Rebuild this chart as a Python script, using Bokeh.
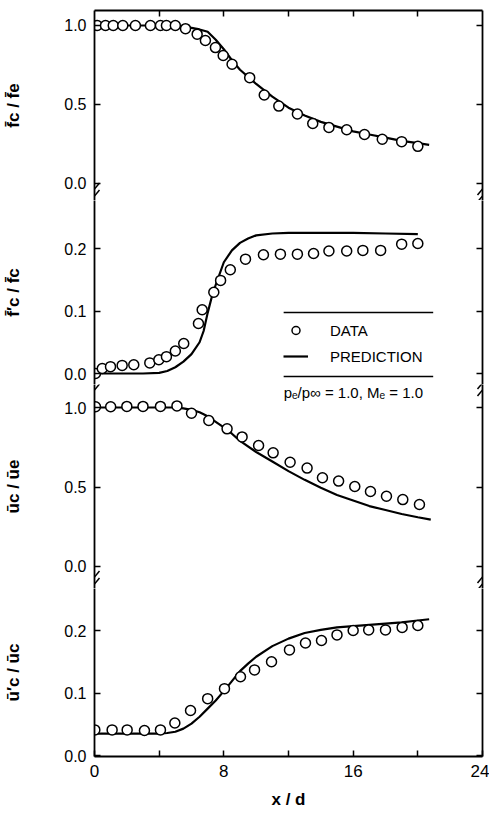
import numpy as np
from bokeh.plotting import figure
from bokeh.layouts import column
from bokeh.models import (Range1d, LinearAxis, FixedTicker, PrintfTickFormatter,
                          CustomJSTickFormatter, Legend, LegendItem, Label, Arrow)
from bokeh.embed import file_html
from bokeh.resources import INLINE

# ---------------- data ----------------
# panel 1: mean concentration  f_c / f_e
f_x = [0.17, 0.68, 1.16, 1.75, 2.53, 3.46, 4.08, 4.45, 5.0, 5.63, 6.35, 6.86, 7.48,
       7.96, 8.51, 9.6, 10.5, 11.4, 12.55, 13.5, 14.5, 15.6, 16.7, 17.8, 19.0, 20.0]
f_y = [1.0, 1.0, 1.0, 1.0, 1.0, 1.0, 1.0, 1.0, 1.0, 0.98, 0.945, 0.905, 0.86,
       0.81, 0.755, 0.67, 0.56, 0.49, 0.44, 0.38, 0.355, 0.34, 0.31, 0.28, 0.265, 0.235]
f_pred_x = [0, 1, 2, 3, 4, 5, 5.5, 6, 6.5, 7, 7.5, 8, 8.5, 9, 10, 11, 12, 13, 14,
            15, 16, 17, 18, 19, 20, 20.7]
f_pred_y = [1.0, 1.0, 1.0, 1.0, 1.0, 0.995, 0.99, 0.985, 0.975, 0.96, 0.91, 0.85,
            0.78, 0.72, 0.63, 0.55, 0.48, 0.43, 0.39, 0.36, 0.33, 0.31, 0.29, 0.27,
            0.255, 0.245]

# panel 2: concentration fluctuation  f'_c / f_c
fp_x = [0.06, 0.48, 0.99, 1.71, 2.43, 3.42, 3.98, 4.45, 5.0, 5.52, 6.43, 6.66, 7.38,
        7.8, 8.4, 9.34, 10.45, 11.5, 12.55, 13.55, 14.5, 15.6, 16.6, 17.7, 19.0, 20.0]
fp_y = [0.0, 0.008, 0.011, 0.013, 0.014, 0.017, 0.022, 0.027, 0.036, 0.048, 0.080,
        0.102, 0.130, 0.149, 0.166, 0.183, 0.190, 0.191, 0.191, 0.192, 0.196, 0.196,
        0.197, 0.197, 0.207, 0.208]
fp_pred_x = [0, 1, 2, 3, 4, 4.5, 5, 5.5, 6, 6.5, 6.75, 7, 7.25, 7.5, 8, 8.5, 9, 9.5,
             10, 11, 12, 14, 16, 18, 20]
fp_pred_y = [0.0, 0.0, 0.0, 0.0, 0.001, 0.004, 0.01, 0.019, 0.031, 0.05, 0.068, 0.097,
             0.122, 0.142, 0.178, 0.197, 0.209, 0.216, 0.221, 0.224, 0.225, 0.225,
             0.225, 0.224, 0.223]

# panel 3: mean velocity  u_c / u_e
u_x = [0.06, 1.0, 2.0, 3.0, 4.08, 5.1, 6.0, 7.07, 8.2, 9.13, 10.15, 11.05, 12.1,
       13.15, 14.1, 15.1, 16.1, 17.07, 18.06, 19.07, 20.1]
u_y = [1.005, 1.005, 1.007, 1.007, 1.007, 1.01, 0.964, 0.918, 0.866, 0.815, 0.761,
       0.715, 0.656, 0.619, 0.558, 0.537, 0.503, 0.472, 0.442, 0.421, 0.39]
u_pred_x = [0, 2, 4, 5, 5.5, 6, 6.5, 7, 7.5, 8, 8.5, 9, 10, 11, 12, 13, 14, 15, 16,
            17, 18, 19, 20, 20.8]
u_pred_y = [1.0, 1.0, 1.0, 1.0, 0.995, 0.985, 0.97, 0.945, 0.91, 0.875, 0.835, 0.79,
            0.72, 0.66, 0.60, 0.545, 0.495, 0.45, 0.415, 0.38, 0.355, 0.33, 0.31, 0.295]

# panel 4: velocity fluctuation  u'_c / u_c
up_x = [0.02, 1.09, 2.02, 3.09, 4.08, 4.97, 5.94, 7.0, 8.04, 9.03, 9.9, 10.95, 12.06,
        13.05, 14.04, 15.0, 16.0, 16.96, 18.0, 19.03, 20.0]
up_y = [0.041, 0.041, 0.041, 0.040, 0.041, 0.052, 0.072, 0.091, 0.107, 0.126, 0.137,
        0.150, 0.169, 0.180, 0.184, 0.193, 0.200, 0.201, 0.201, 0.205, 0.208]
up_pred_x = [0, 2, 4, 4.5, 5, 5.5, 6, 6.5, 7, 7.5, 8, 8.5, 9, 9.5, 10, 11, 12, 13,
             14, 15, 16, 17, 18, 19, 20, 20.7]
up_pred_y = [0.035, 0.035, 0.035, 0.036, 0.038, 0.043, 0.051, 0.062, 0.075, 0.088,
             0.103, 0.119, 0.135, 0.147, 0.158, 0.175, 0.187, 0.196, 0.201, 0.205,
             0.207, 0.209, 0.211, 0.213, 0.216, 0.218]

x_ticks_major = [0, 8, 16, 24]
x_ticks_minor = [4, 12, 20]
x_ticks_top = [4, 8, 12, 16, 20]
ticks_mean = [0.0, 0.5, 1.0]
ticks_fluct = [0.0, 0.1, 0.2]

labels = ["f\u0304c / f\u0304e", "f\u0304\u2032c / f\u0304c",
          "\u016bc / \u016be", "\u016b\u2032c / \u016bc"]
legend_labels = ["DATA", "PREDICTION"]
condition_text = "p\u2091/p\u221e = 1.0,  M\u2091 = 1.0"

FONT = "Liberation Sans"
XS = 388 / 24.0   # px per x unit
AXW = 1.8          # axis line width
TKW = 1.5          # tick width

xr = Range1d(0, 24)


def style_axis(ax):
    ax.axis_line_color = "black"
    ax.axis_line_width = AXW
    ax.major_tick_line_color = "black"
    ax.major_tick_line_width = TKW
    ax.major_tick_in = 6
    ax.major_tick_out = 0
    ax.minor_tick_line_color = "black"
    ax.minor_tick_line_width = TKW
    ax.minor_tick_in = 6
    ax.minor_tick_out = 0
    ax.major_label_text_font = FONT
    ax.major_label_text_color = "black"
    ax.axis_label_text_font = FONT
    ax.axis_label_text_font_style = "bold"
    ax.axis_label_text_color = "black"


def blank_axis(ticker):
    ax = LinearAxis(ticker=ticker, formatter=CustomJSTickFormatter(code="return ''"),
                    major_label_text_font_size="1px", major_label_standoff=0)
    style_axis(ax)
    return ax


def panel(height, y0, y1, ticks, label, mb_top=0, mb_bottom=0):
    p = figure(width=489, height=height, x_range=xr, y_range=Range1d(y0, y1),
               output_backend="svg", toolbar_location=None,
               x_axis_location=None, y_axis_location=None,
               min_border_left=94, min_border_right=7,
               min_border_top=mb_top, min_border_bottom=mb_bottom,
               outline_line_color=None, background_fill_color=None,
               border_fill_color=None)
    p.grid.visible = False
    left = LinearAxis(ticker=FixedTicker(ticks=ticks),
                      formatter=PrintfTickFormatter(format="%.1f"),
                      axis_label=label, major_label_standoff=8,
                      axis_label_standoff=38,
                      major_label_text_font_size="16px",
                      axis_label_text_font_size="17px")
    style_axis(left)
    p.add_layout(left, "left")
    p.add_layout(blank_axis(FixedTicker(ticks=ticks)), "right")
    return p


def add_break(p, yb, scale):
    for xc in (0, 24):
        for off in (-3.5, 3.5):
            yc = yb + off / scale
            p.add_layout(Arrow(end=None, x_start=xc - 5 / XS, y_start=yc - 6 / scale,
                               x_end=xc + 5 / XS, y_end=yc + 6 / scale,
                               line_color="black", line_width=1.5))


def draw(p, dx, dy, px_, py_):
    ln = p.line(px_, py_, line_color="black", line_width=2.2)
    sc = p.scatter(dx, dy, marker="circle", size=10, fill_color="white",
                   line_color="black", line_width=1.5)
    return sc, ln


# panel 1  (frame y 10..200, 0 at 183, 158 px/unit)
p1 = panel(200, -0.1076, 1.0949, ticks_mean, labels[0], mb_top=10)
p1.add_layout(blank_axis(FixedTicker(ticks=x_ticks_top)), "above")
draw(p1, f_x, f_y, f_pred_x, f_pred_y)
add_break(p1, -0.057, 158)

# panel 2  (frame y 200..384, 0 at 373, 625 px/unit)
p2 = panel(184, -0.0176, 0.2768, ticks_fluct, labels[1])
sc2, ln2 = draw(p2, fp_x, fp_y, fp_pred_x, fp_pred_y)
legend = Legend(items=[LegendItem(label=legend_labels[0], renderers=[sc2]),
                       LegendItem(label=legend_labels[1], renderers=[ln2])],
                location=(189, 18), border_line_color=None, background_fill_alpha=0,
                padding=0, margin=0, spacing=6, glyph_width=25, glyph_height=20,
                label_standoff=22, label_text_font=FONT, label_text_font_size="15px",
                label_text_color="black")
p2.add_layout(legend)
rule_x0 = [11.7, 11.7]
rule_x1 = [20.95, 20.95]
rule_y = [0.0976, -0.0048]
p2.segment(rule_x0, rule_y, rule_x1, rule_y, line_color="black", line_width=1.5)

# panel 3  (frame y 384..588, 0 at 566, 159 px/unit)
p3 = panel(204, -0.1384, 1.1447, ticks_mean, labels[2])
add_break(p3, 1.132, 159)          # break belonging to panel 2 (y px ~386)
p3.add_layout(Label(x=11.7, y=1.0943, text=condition_text, text_baseline="middle",
                    text_font=FONT, text_font_size="15px", text_color="black"))
draw(p3, u_x, u_y, u_pred_x, u_pred_y)
add_break(p3, -0.088, 159)

# panel 4  (frame y 588..756, 0 at 755, 625 px/unit)
p4 = panel(229, -0.0016, 0.2672, ticks_fluct, labels[3], mb_bottom=61)
bottom = LinearAxis(ticker=FixedTicker(ticks=x_ticks_major, minor_ticks=x_ticks_minor),
                    axis_label="x / d", major_label_text_font_size="17px",
                    major_label_standoff=8, axis_label_standoff=10,
                    axis_label_text_font_size="17px")
style_axis(bottom)
p4.add_layout(bottom, "below")
draw(p4, up_x, up_y, up_pred_x, up_pred_y)

layout = column(p1, p2, p3, p4, spacing=0)
open("out.html", "w").write(file_html(layout, INLINE))
